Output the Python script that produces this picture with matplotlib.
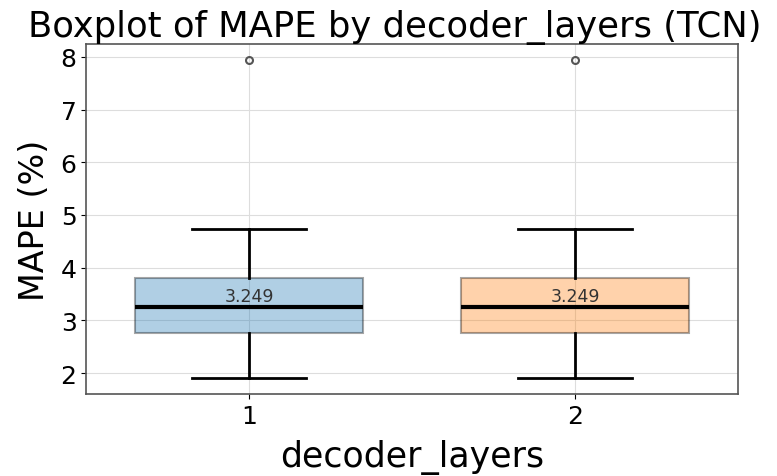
import matplotlib.pyplot as plt

# values
layers = ['1', '2']
q1 = [2.763, 2.763]
med = [3.249, 3.249]
q3 = [3.813, 3.813]
whislo = [1.905, 1.905]
whishi = [4.735, 4.735]
fliers = [[7.947], [7.947]]
colors = ['tab:blue', 'tab:orange']

stats = []
for i in range(len(layers)):
    stats.append(dict(q1=q1[i], med=med[i], q3=q3[i], whislo=whislo[i],
                      whishi=whishi[i], fliers=fliers[i], label=layers[i]))

fig, ax = plt.subplots(figsize=(7.77, 4.77), dpi=100)
fig.subplots_adjust(left=0.111, right=0.95, top=0.906, bottom=0.172)

bp = ax.bxp(stats, positions=range(len(layers)), widths=0.7, patch_artist=True,
            medianprops=dict(color='black', linewidth=3),
            whiskerprops=dict(color='black', linewidth=2),
            capprops=dict(color='black', linewidth=2),
            flierprops=dict(marker='o', markersize=5, markerfacecolor='none',
                            markeredgecolor='#555555', markeredgewidth=1.5))
for patch, c in zip(bp['boxes'], colors):
    patch.set_facecolor(c)
    patch.set_alpha(0.35)
    patch.set_edgecolor('black')
    patch.set_linewidth(1.5)

for i, m in enumerate(med):
    ax.text(i, m + 0.04, f'{m:.3f}', ha='center', va='bottom', fontsize=12.5, color='#333333')

ax.set_xlim(-0.5, len(layers) - 0.5)
ax.grid(True, color='#dddddd', linewidth=0.8)
ax.set_axisbelow(True)
for s in ax.spines.values():
    s.set_color('#555555')
    s.set_linewidth(1.2)

ax.set_title('Boxplot of MAPE by decoder_layers (TCN)', fontsize=25.5, pad=5, x=0.474)
ax.set_xlabel('decoder_layers', fontsize=25, labelpad=8)
ax.set_ylabel('MAPE (%)', fontsize=24, labelpad=7)
ax.tick_params(labelsize=18)

fig.savefig('out.png')
